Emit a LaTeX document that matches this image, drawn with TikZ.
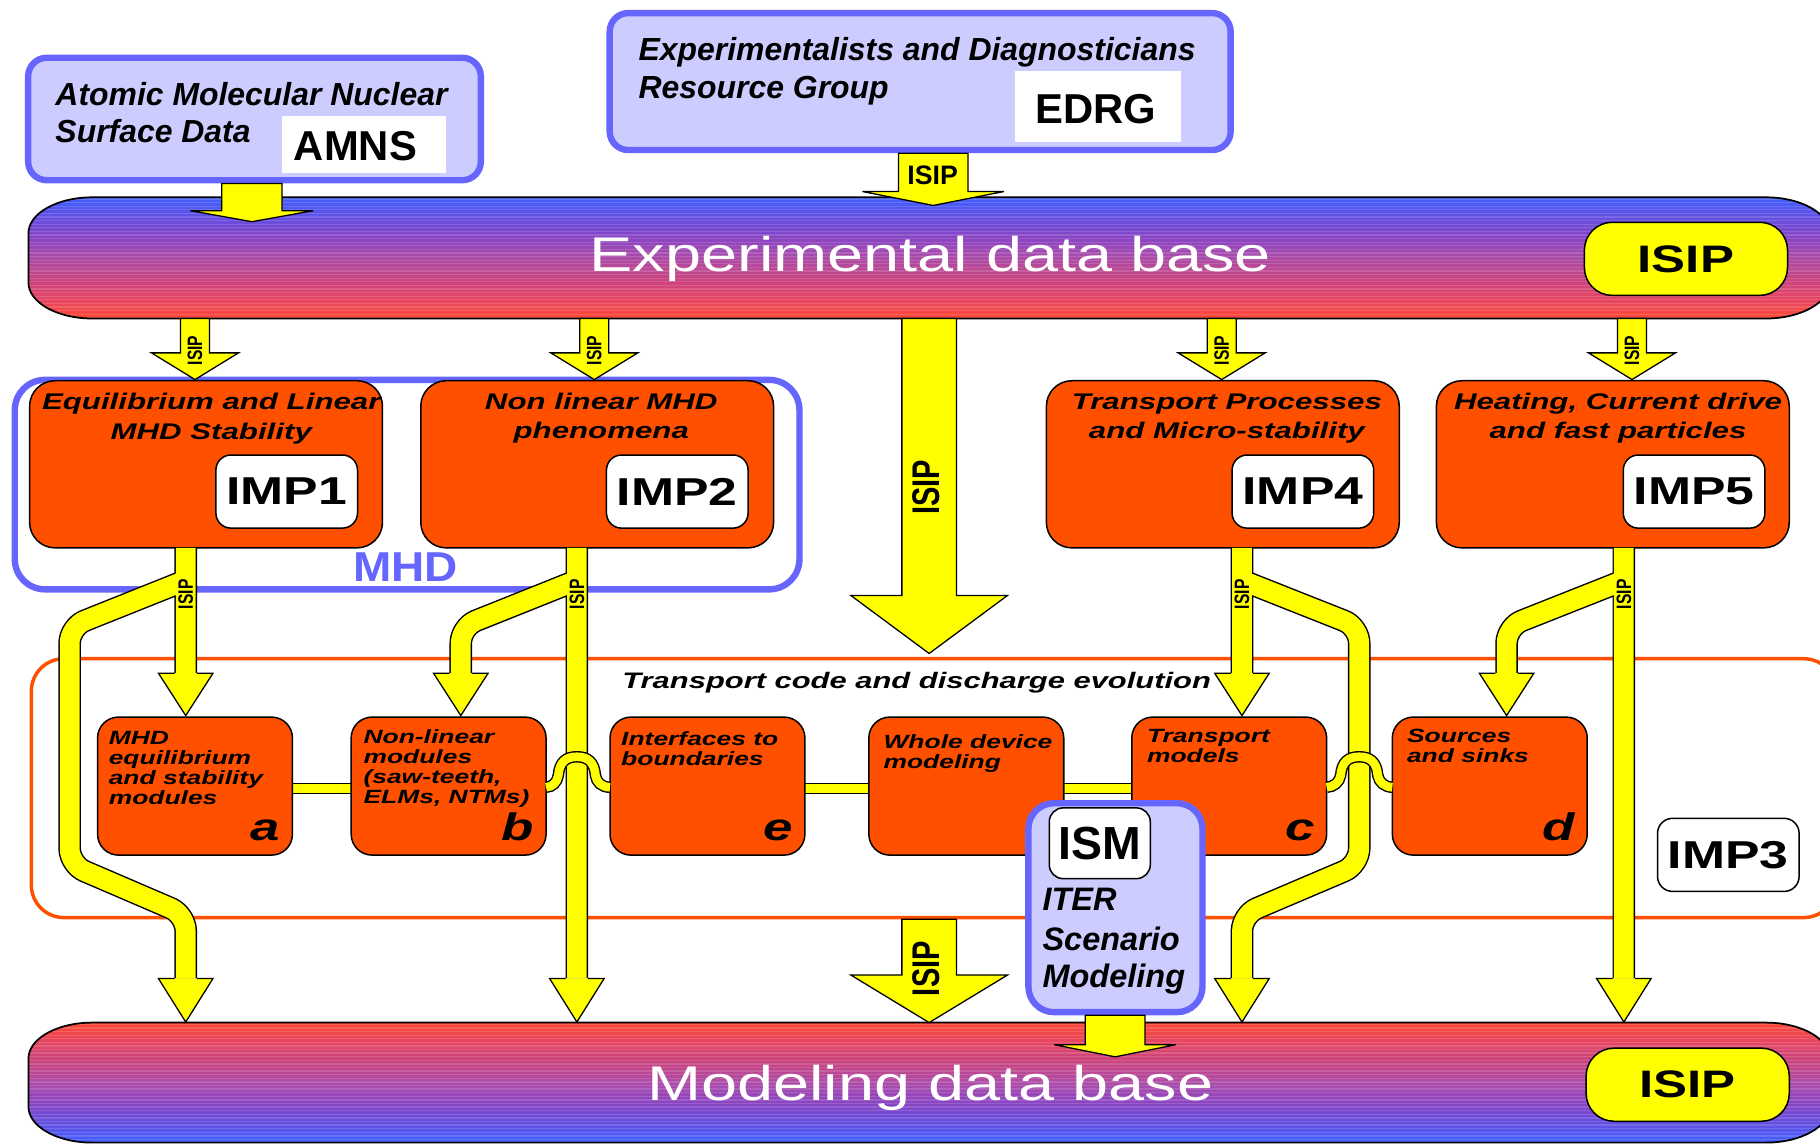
\documentclass[tikz,border=0pt]{standalone}
\usepackage{fontspec}
\usepackage{graphicx}
\setmainfont{Liberation Sans}
\newfontfamily\wideA[FakeStretch=1.33]{Liberation Sans}
\newfontfamily\wideB[FakeStretch=1.38]{Liberation Sans}
\usetikzlibrary{calc}

\definecolor{boxblue}{RGB}{102,102,255}
\definecolor{boxlilac}{RGB}{204,204,255}
\definecolor{impred}{RGB}{255,80,0}
\definecolor{flowyellow}{RGB}{255,255,0}
\definecolor{dbA}{RGB}{64,96,255}
\definecolor{dbB}{RGB}{100,80,225}
\definecolor{dbC}{RGB}{138,68,195}
\definecolor{dbD}{RGB}{172,76,168}
\definecolor{dbE}{RGB}{200,68,130}
\definecolor{dbF}{RGB}{228,70,100}
\definecolor{dbG}{RGB}{255,72,52}

% blue on top, red at the bottom
\pgfdeclareverticalshading{expshade}{100bp}{color(0bp)=(dbG); color(25bp)=(dbG);
  color(33.3bp)=(dbF); color(41.7bp)=(dbE); color(50bp)=(dbD); color(58.3bp)=(dbC);
  color(66.7bp)=(dbB); color(75bp)=(dbA); color(100bp)=(dbA)}
% red on top, blue at the bottom
\pgfdeclareverticalshading{modshade}{100bp}{color(0bp)=(dbA); color(25bp)=(dbA);
  color(33.3bp)=(dbB); color(41.7bp)=(dbC); color(50bp)=(dbD); color(58.3bp)=(dbE);
  color(66.7bp)=(dbF); color(75bp)=(dbG); color(100bp)=(dbG)}

\tikzset{
  dbnode/.style={inner sep=0},
  dbtitle/.style={anchor=base, inner sep=0, text=white, font=\wideA\fontsize{42}{42}\selectfont},
  pill/.style={fill=flowyellow, draw=black, line width=1.3, rounded corners=24,
    minimum width=175, minimum height=63, inner sep=0, font=\wideA\bfseries\fontsize{33}{33}\selectfont},
  bluepanel/.style={draw=boxblue, fill=boxlilac, line width=5.5, rounded corners=16, inner sep=0},
  whitetag/.style={fill=white, inner sep=0},
  toptext/.style={anchor=base west, inner sep=0, font=\bfseries\itshape\fontsize{27.5}{27.5}\selectfont},
  tagtext/.style={anchor=base west, inner sep=0, font=\bfseries\fontsize{36}{36}\selectfont},
  impbox/.style={draw=black, fill=impred, line width=1.3, rounded corners=22,
    minimum width=304, minimum height=144, inner sep=0},
  implabel/.style={draw=black, fill=white, line width=1.3, rounded corners=13,
    minimum width=122, minimum height=63, inner sep=0, font=\wideA\bfseries\fontsize{33.5}{33.5}\selectfont},
  imptitle/.style={anchor=base, inner sep=0, font=\wideB\bfseries\itshape\fontsize{19.5}{19.5}\selectfont},
  modslot/.style={minimum width=167.5, minimum height=118.5, inner sep=0},
  modshape/.style={draw=black, fill=impred, line width=1.3, rounded corners=18},
  modtext/.style={anchor=north west, align=left, inner sep=0, font=\wideB\bfseries\itshape\fontsize{16.5}{17.2}\selectfont},
  modletter/.style={anchor=base east, inner sep=0, font=\wideB\bfseries\itshape\fontsize{33}{33}\selectfont},
  ismtext/.style={anchor=base west, inner sep=0, font=\bfseries\itshape\fontsize{28}{28}\selectfont},
  blockarrow/.style={fill=flowyellow, draw=black, line width=1.1, line join=miter},
  flowedge/.style={draw=black, line width=19.5, rounded corners=14, line join=round},
  flowfill/.style={draw=flowyellow, line width=17, rounded corners=14, line join=round},
  flowhead/.style={fill=flowyellow, draw=black, line width=1.1, line join=miter},
  link/.style={draw=black, line width=1.2, double=flowyellow, double distance=7.5},
  isipsmall/.style={inner sep=0, font=\bfseries\fontsize{13.5}{13.5}\selectfont},
  isipbig/.style={inner sep=0, font=\bfseries\fontsize{25}{25}\selectfont},
}

% outline of a data base bar with elliptic ends
\newcommand\barshape[1]{let \p1=(#1.north west), \p2=(#1.south east) in
  (\x1+55pt,\y1) -- (\x2-55pt,\y1) arc[start angle=90,end angle=0,x radius=55pt,y radius=31pt]
  -- (\x2,\y2+31pt) arc[start angle=0,end angle=-90,x radius=55pt,y radius=31pt]
  -- (\x1+55pt,\y2) arc[start angle=270,end angle=180,x radius=55pt,y radius=31pt]
  -- (\x1,\y1-31pt) arc[start angle=180,end angle=90,x radius=55pt,y radius=31pt] -- cycle}

% wide block arrow: {from} {tip} {half shaft} {half head} {head length}
\newcommand\blockarrow[5]{\draw[blockarrow] let \p1=(#1), \p2=(#2) in
  (\x2-#3pt,\y1) -- (\x2-#3pt,\y2+#5pt) -- (\x2-#4pt,\y2+#5pt) -- (\x2,\y2)
  -- (\x2+#4pt,\y2+#5pt) -- (\x2+#3pt,\y2+#5pt) -- (\x2+#3pt,\y1) -- cycle;}

% head of a narrow flow arrow: {x} {base} {tip}
\newcommand\flowhead[3]{\filldraw[flowhead] (#1-9.6,#2) -- (#1-23.5,#2) -- (#1,#3) -- (#1+23.5,#2) -- (#1+9.6,#2);}

\newcommand\vlabel{\scalebox{1.33}[1]{\rotatebox{90}{ISIP}}}

% routes of the narrow flow arrows out of IMP1, IMP2, IMP4 and IMP5
\newcommand\flowroutes{
  (f1) -- (160,580)
  (160,500) -- (60,540) -- (60,745) -- (160,788) -- (160,843)
  (f2) -- (497,843)
  (497,500) -- (397,540) -- (397,580)
  (f4) -- (1070,580)
  (1070,500) -- (1171,540) -- (1171,745) -- (1070,788) -- (1070,843)
  (f5) -- (1399,843)
  (1399,500) -- (1298,540) -- (1298,580)}

\begin{document}
\begin{tikzpicture}[x=1pt,y=-1pt]
\useasboundingbox (0,0) rectangle (1568,985);
\fill[white] (0,0) rectangle (1568,985);

% ---------- data base bars ----------
\node[dbnode, minimum width=1551.5, minimum height=104, anchor=north west] (expdb) at (24.5,170) {};
\node[dbnode, minimum width=1551.5, minimum height=103, anchor=north west] (moddb) at (24.5,881) {};

\begin{scope}
  \clip \barshape{expdb};
  \shade[shading=expshade] (expdb.north west) rectangle (expdb.south east);
  \foreach \k in {0,...,33} \draw[white, opacity=.14, line width=1.1] (0,171.5+3.1*\k) -- (1600,171.5+3.1*\k);
\end{scope}
\draw[line width=1.5] \barshape{expdb};

\begin{scope}
  \clip \barshape{moddb};
  \shade[shading=modshade] (moddb.north west) rectangle (moddb.south east);
  \foreach \k in {0,...,33} \draw[white, opacity=.14, line width=1.1] (0,882.5+3.1*\k) -- (1600,882.5+3.1*\k);
\end{scope}
\draw[line width=1.5] \barshape{moddb};

\node[dbtitle] (exptitle) at (801.5,234) {Experimental data base};
\node[dbtitle] (modtitle) at (801.5,948) {Modeling data base};
\node[pill] (exppill) at (1452.5,223) {ISIP};
\node[pill] (modpill) at (1454,934.5) {ISIP};

% ---------- resource groups ----------
\node[bluepanel, minimum width=390, minimum height=105.5, anchor=north west] (amns) at (21.5,47) {};
\node[whitetag, minimum width=141, minimum height=49, anchor=north west] (amnstag) at (243,100) {};
\node[toptext] (amns1) at (47.6,91.3) {Atomic Molecular Nuclear};
\node[toptext] (amns2) at (47.6,123) {Surface Data};
\node[tagtext] (amnsname) at (253,138) {AMNS};

\node[bluepanel, minimum width=535, minimum height=118, anchor=north west] (edrg) at (522.5,8.5) {};
\node[whitetag, minimum width=143, minimum height=61, anchor=north west] (edrgtag) at (874.5,61) {};
\node[toptext] (edrg1) at (550,52) {Experimentalists and Diagnosticians};
\node[toptext] (edrg2) at (550,85) {Resource Group};
\node[tagtext] (edrgname) at (892,106) {EDRG};

\coordinate (amnsin) at (217,191);
\coordinate (edrgin) at (804,177);
\blockarrow{amns.south}{amnsin}{26}{53}{9.5}
\blockarrow{edrg.south}{edrgin}{30}{61}{12}
\node[inner sep=0, font=\bfseries\fontsize{23}{23}\selectfont] (edrgisip) at (803.5,151) {ISIP};

% ---------- containers ----------
\node[draw=boxblue, line width=5.5, rounded corners=26, minimum width=676, minimum height=180.5,
  inner sep=0, anchor=north west] (mhd) at (10,324.5) {};
\node[draw=impred, line width=3, rounded corners=28, minimum width=1555, minimum height=223,
  inner sep=0, anchor=north west] (imp3) at (25.5,566) {};
\node[inner sep=0, anchor=base, text=boxblue, font=\bfseries\fontsize{36}{36}\selectfont] (mhdname)
  at (349.5,501) {\scalebox{1.1}[1]{MHD}};
\node[anchor=base west, inner sep=0, font=\wideB\bfseries\itshape\fontsize{19.3}{19.3}\selectfont]
  (imp3title) at (536,593) {Transport code and discharge evolution};
\node[implabel] (imp3tag) at (1489,736.5) {IMP3};

% ---------- integrated modelling projects ----------
\node[impbox] (imp1) at (177.5,400) {};
\node[impbox] (imp2) at (514.5,400) {};
\node[impbox] (imp4) at (1053.5,400) {};
\node[impbox] (imp5) at (1389.5,400) {};

\node[imptitle] (imp1t1) at (182,353) {Equilibrium and Linear};
\node[imptitle] (imp1t2) at (182,379) {MHD Stability};
\node[imptitle] (imp2t1) at (518,353) {Non linear MHD};
\node[imptitle] (imp2t2) at (518,378) {phenomena};
\node[imptitle] (imp4t1) at (1057,353) {Transport Processes};
\node[imptitle] (imp4t2) at (1057,378) {and Micro-stability};
\node[imptitle] (imp5t1) at (1394,353) {Heating, Current drive};
\node[imptitle] (imp5t2) at (1394,378) {and fast particles};

\node[implabel] (imp1tag) at (247,423.5) {IMP1};
\node[implabel] (imp2tag) at (583.5,423.5) {IMP2};
\node[implabel] (imp4tag) at (1122.5,423.5) {IMP4};
\node[implabel] (imp5tag) at (1459.5,423.5) {IMP5};

% feeds from the experimental data base
\coordinate (in1) at (168,327);
\coordinate (in2) at (512,327);
\coordinate (in4) at (1052.5,327);
\coordinate (in5) at (1406,327);
\blockarrow{expdb.south}{in1}{12.5}{37.5}{23}
\blockarrow{expdb.south}{in2}{12.5}{37.5}{23}
\blockarrow{expdb.south}{in4}{12.5}{37.5}{23}
\blockarrow{expdb.south}{in5}{12.5}{37.5}{23}
\node[isipsmall] (s1) at (168,302) {\vlabel};
\node[isipsmall] (s2) at (512,302) {\vlabel};
\node[isipsmall] (s4) at (1052.5,302) {\vlabel};
\node[isipsmall] (s5) at (1406,302) {\vlabel};

% central ISIP arrows
\coordinate (midtip) at (800.5,563);
\coordinate (lowtip) at (800.5,881);
\blockarrow{expdb.south}{midtip}{23.5}{67.5}{50}
\blockarrow{imp3.south}{lowtip}{23.5}{67.5}{41}
\node[isipbig] (c1) at (798,420) {\vlabel};
\node[isipbig] (c2) at (798,834.5) {\vlabel};

% ---------- modules of the transport code ----------
\node[modslot] (ma) at (168,677.25) {};
\node[modslot] (mb) at (386.5,677.25) {};
\node[modslot] (me) at (609.5,677.25) {};
\node[modslot] (mw) at (832.5,677.25) {};
\node[modslot] (mc) at (1059,677.25) {};
\node[modslot] (md) at (1283.5,677.25) {};

\draw[link] ([yshift=-2pt]ma.east) -- ([yshift=-2pt]mb.west);
\draw[link] ([yshift=-2pt]me.east) -- ([yshift=-2pt]mw.west);
\draw[link] ([yshift=-2pt]mw.east) -- ([yshift=-2pt]mc.west);

\foreach \m in {ma,mb,me,mw,mc,md}
  \draw[modshape] (\m.south west) rectangle (\m.north east);

\node[modtext] (ta) at (93.5,630) {MHD\\equilibrium\\and stability\\modules};
\node[modtext] (tb) at (313,628.5) {Non-linear\\modules\\(saw-teeth,\\ELMs, NTMs)};
\node[modtext] (te) at (535,630) {Interfaces to\\boundaries};
\node[modtext] (tw) at (761,632.5) {Whole device\\modeling};
\node[modtext] (tc) at (988,628) {Transport\\models};
\node[modtext] (td) at (1212,628) {Sources\\and sinks};

\node[modletter] (la) at (241,724) {a};
\node[modletter] (lb) at (460,724) {b};
\node[modletter] (le) at (683,724) {e};
\node[modletter] (lc) at (1133,724) {c};
\node[modletter] (ld) at (1357,724) {d};

% ---------- narrow flow arrows ----------
\coordinate (f1) at (160,472);
\coordinate (f2) at (497,472);
\coordinate (f4) at (1070,472);
\coordinate (f5) at (1399,472);
\draw[flowedge] \flowroutes;
\draw[flowfill] \flowroutes;
\flowhead{160}{580}{616.5}
\flowhead{160}{843}{880.5}
\flowhead{497}{843}{880.5}
\flowhead{397}{580}{616.5}
\flowhead{1070}{580}{616.5}
\flowhead{1070}{843}{880.5}
\flowhead{1399}{843}{880.5}
\flowhead{1298}{580}{616.5}
\node[isipsmall] (r1) at (160,512) {\vlabel};
\node[isipsmall] (r2) at (497,512) {\vlabel};
\node[isipsmall] (r4) at (1070,512) {\vlabel};
\node[isipsmall] (r5) at (1399,512) {\vlabel};

% links arching over the flow arrows
\draw[link] ([yshift=-1pt]mb.east) .. controls (476,678) and (480,674) .. (481,668)
  .. controls (482,656) and (488,652) .. (497,652)
  .. controls (506,652) and (512,656) .. (513,668)
  .. controls (514,674) and (518,678) .. ([yshift=-1pt]me.west);
\draw[link] ([yshift=-1pt]mc.east) .. controls (1149,678) and (1154,674) .. (1155,668)
  .. controls (1156,656) and (1162,652) .. (1171,652)
  .. controls (1180,652) and (1186,656) .. (1187,668)
  .. controls (1188,674) and (1193,678) .. ([yshift=-1pt]md.west);

% ---------- ITER scenario modelling ----------
\node[bluepanel, rounded corners=22, minimum width=150, minimum height=180, anchor=north west] (ism) at (883.25,689.25) {};
\node[draw=black, fill=white, line width=1.3, rounded corners=12, minimum width=87, minimum height=61,
  inner sep=0, font=\bfseries\fontsize{40}{40}\selectfont] (ismtag) at (947.5,726.5) {ISM};
\node[ismtext] (ism1) at (898,784) {ITER};
\node[ismtext] (ism2) at (898,818.5) {Scenario};
\node[ismtext] (ism3) at (898,851) {Modeling};
\coordinate (ismin) at (960.75,910.5);
\blockarrow{ism.south}{ismin}{25.75}{52.5}{10.5}
\end{tikzpicture}
\end{document}
